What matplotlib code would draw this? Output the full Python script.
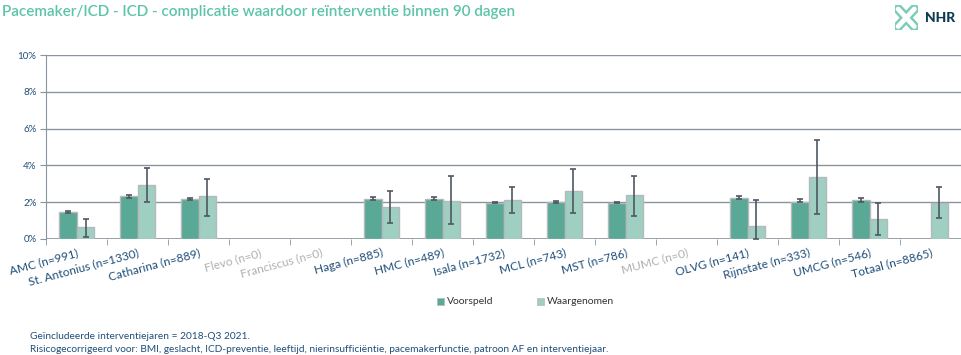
import matplotlib.pyplot as plt
import numpy as np
from matplotlib.patches import Rectangle

plt.rcParams['font.family'] = ['Lato', 'DejaVu Sans']

# data (percentages)
hospitals = ['AMC', 'St. Antonius', 'Catharina', 'Flevo', 'Franciscus', 'Haga', 'HMC',
             'Isala', 'MCL', 'MST', 'MUMC', 'OLVG', 'Rijnstate', 'UMCG', 'Totaal']
n_counts = [991, 1330, 889, 0, 0, 885, 489, 1732, 743, 786, 0, 141, 333, 546, 8865]

voorspeld = [1.47, 2.32, 2.17, np.nan, np.nan, 2.18, 2.18, 1.98, 2.03, 1.98, np.nan, 2.25, 2.03, 2.1, np.nan]
voorspeld_lo = [1.42, 2.25, 2.12, np.nan, np.nan, 2.11, 2.11, 1.94, 1.98, 1.93, np.nan, 2.17, 1.99, 2.03, np.nan]
voorspeld_hi = [1.53, 2.38, 2.2, np.nan, np.nan, 2.26, 2.26, 2.02, 2.08, 2.03, np.nan, 2.36, 2.19, 2.25, np.nan]

waargenomen = [0.63, 2.94, 2.32, np.nan, np.nan, 1.72, 2.06, 2.11, 2.62, 2.38, np.nan, 0.68, 3.38, 1.08, 1.98]
waargenomen_lo = [0.1, 2.0, 1.25, np.nan, np.nan, 0.85, 0.79, 1.42, 1.42, 1.25, np.nan, 0.0, 1.36, 0.23, 1.13]
waargenomen_hi = [1.08, 3.83, 3.26, np.nan, np.nan, 2.6, 3.4, 2.83, 3.79, 3.4, np.nan, 2.09, 5.38, 1.98, 2.83]

c_v = '#5aa896'
c_w = '#9fcfc1'
c_edge = '#b5b9bc'
c_err = '#4f5862'
c_txt = '#1f4e79'
c_grey = '#b0b0b0'

fig = plt.figure(figsize=(9.62, 3.55), dpi=100)
ax = fig.add_axes([0.048, 0.327, 0.951, 0.518])

x = np.arange(len(hospitals))
w = 0.29
v = np.array(voorspeld)
o = np.array(waargenomen)
ax.bar(x - w / 2, v, w, color=c_v, edgecolor=c_edge, linewidth=1, zorder=3)
ax.bar(x + w / 2, o, w, color=c_w, edgecolor=c_edge, linewidth=1, zorder=3)
ax.errorbar(x - w / 2, v, yerr=[v - np.array(voorspeld_lo), np.array(voorspeld_hi) - v],
            fmt='none', ecolor=c_err, elinewidth=1.2, capsize=2.5, capthick=1.2, zorder=4)
ax.errorbar(x + w / 2, o, yerr=[o - np.array(waargenomen_lo), np.array(waargenomen_hi) - o],
            fmt='none', ecolor=c_err, elinewidth=1.2, capsize=2.5, capthick=1.2, zorder=4)

ax.set_xlim(-0.5, len(hospitals) - 0.5)
ax.set_ylim(0, 10)
ax.set_yticks(np.arange(0, 11, 2))
ax.set_yticklabels([f'{t}%' for t in range(0, 11, 2)], color=c_txt, fontsize=7)
ax.yaxis.grid(True, color='#8a949e', linewidth=1, zorder=0)
ax.set_axisbelow(True)
for s in ['top', 'right', 'bottom']:
    ax.spines[s].set_visible(False)
ax.spines['left'].set_color('#8a949e')
ax.axhline(0, color='#8a949e', linewidth=1.2, zorder=2)
ax.tick_params(axis='y', length=4, color='#8a949e', pad=3)

# category boundary ticks
ax.set_xticks(np.arange(-0.5, len(hospitals) + 0.5, 1), minor=True)
ax.tick_params(axis='x', which='minor', length=4, color='#8a949e')
ax.set_xticks(x)
ax.tick_params(axis='x', which='major', length=0, pad=6)
labels = [f'{h} (n={n})' for h, n in zip(hospitals, n_counts)]
ax.set_xticklabels(labels, rotation=15, ha='right', va='top', rotation_mode='anchor', fontsize=8.6)
for lab, n in zip(ax.get_xticklabels(), n_counts):
    lab.set_color(c_grey if n == 0 else c_txt)

fig.text(0.002, 0.965, 'Pacemaker/ICD - ICD - complicatie waardoor reïnterventie binnen 90 dagen',
         color='#5cc4a8', fontsize=11, fontweight='semibold', ha='left', va='center')

# logo
fig.text(0.993, 0.948, 'NHR', color='#0e3a53', fontsize=10, fontweight='black', ha='right', va='center')
lax = fig.add_axes([0.930, 0.915, 0.024, 0.07])
lax.set_xlim(0, 1)
lax.set_ylim(0, 1)
lax.axis('off')
for (x0, y0, x1, y1) in [(0.15, 0.15, 0.85, 0.85), (0.15, 0.85, 0.85, 0.15)]:
    lax.plot([x0, x1], [y0, y1], color='#7ccdb5', linewidth=7, solid_capstyle='round')
for (x0, y0, x1, y1) in [(0.15, 0.15, 0.85, 0.85), (0.15, 0.85, 0.85, 0.15)]:
    lax.plot([x0, x1], [y0, y1], color='white', linewidth=3.5, solid_capstyle='round')

# legend
for xx, col, name in [(0.4545, c_v, 'Voorspeld'), (0.558, c_w, 'Waargenomen')]:
    fig.patches.append(Rectangle((xx, 0.141), 0.0072, 0.0195, transform=fig.transFigure,
                                 facecolor=col, edgecolor=c_edge, linewidth=0.5))
    fig.text(xx + 0.0105, 0.151, name, color='#333333', fontsize=7.5, ha='left', va='center')

fig.text(0.031, 0.053, 'Geïncludeerde interventiejaren = 2018-Q3 2021.', color='#1f4e79',
         fontsize=7.3, ha='left', va='center')
fig.text(0.031, 0.016, 'Risicogecorrigeerd voor: BMI, geslacht, ICD-preventie, leeftijd, nierinsufficiëntie, '
         'pacemakerfunctie, patroon AF en interventiejaar.', color='#1f4e79', fontsize=7.3,
         ha='left', va='center')

fig.savefig('out.png', dpi=100)
